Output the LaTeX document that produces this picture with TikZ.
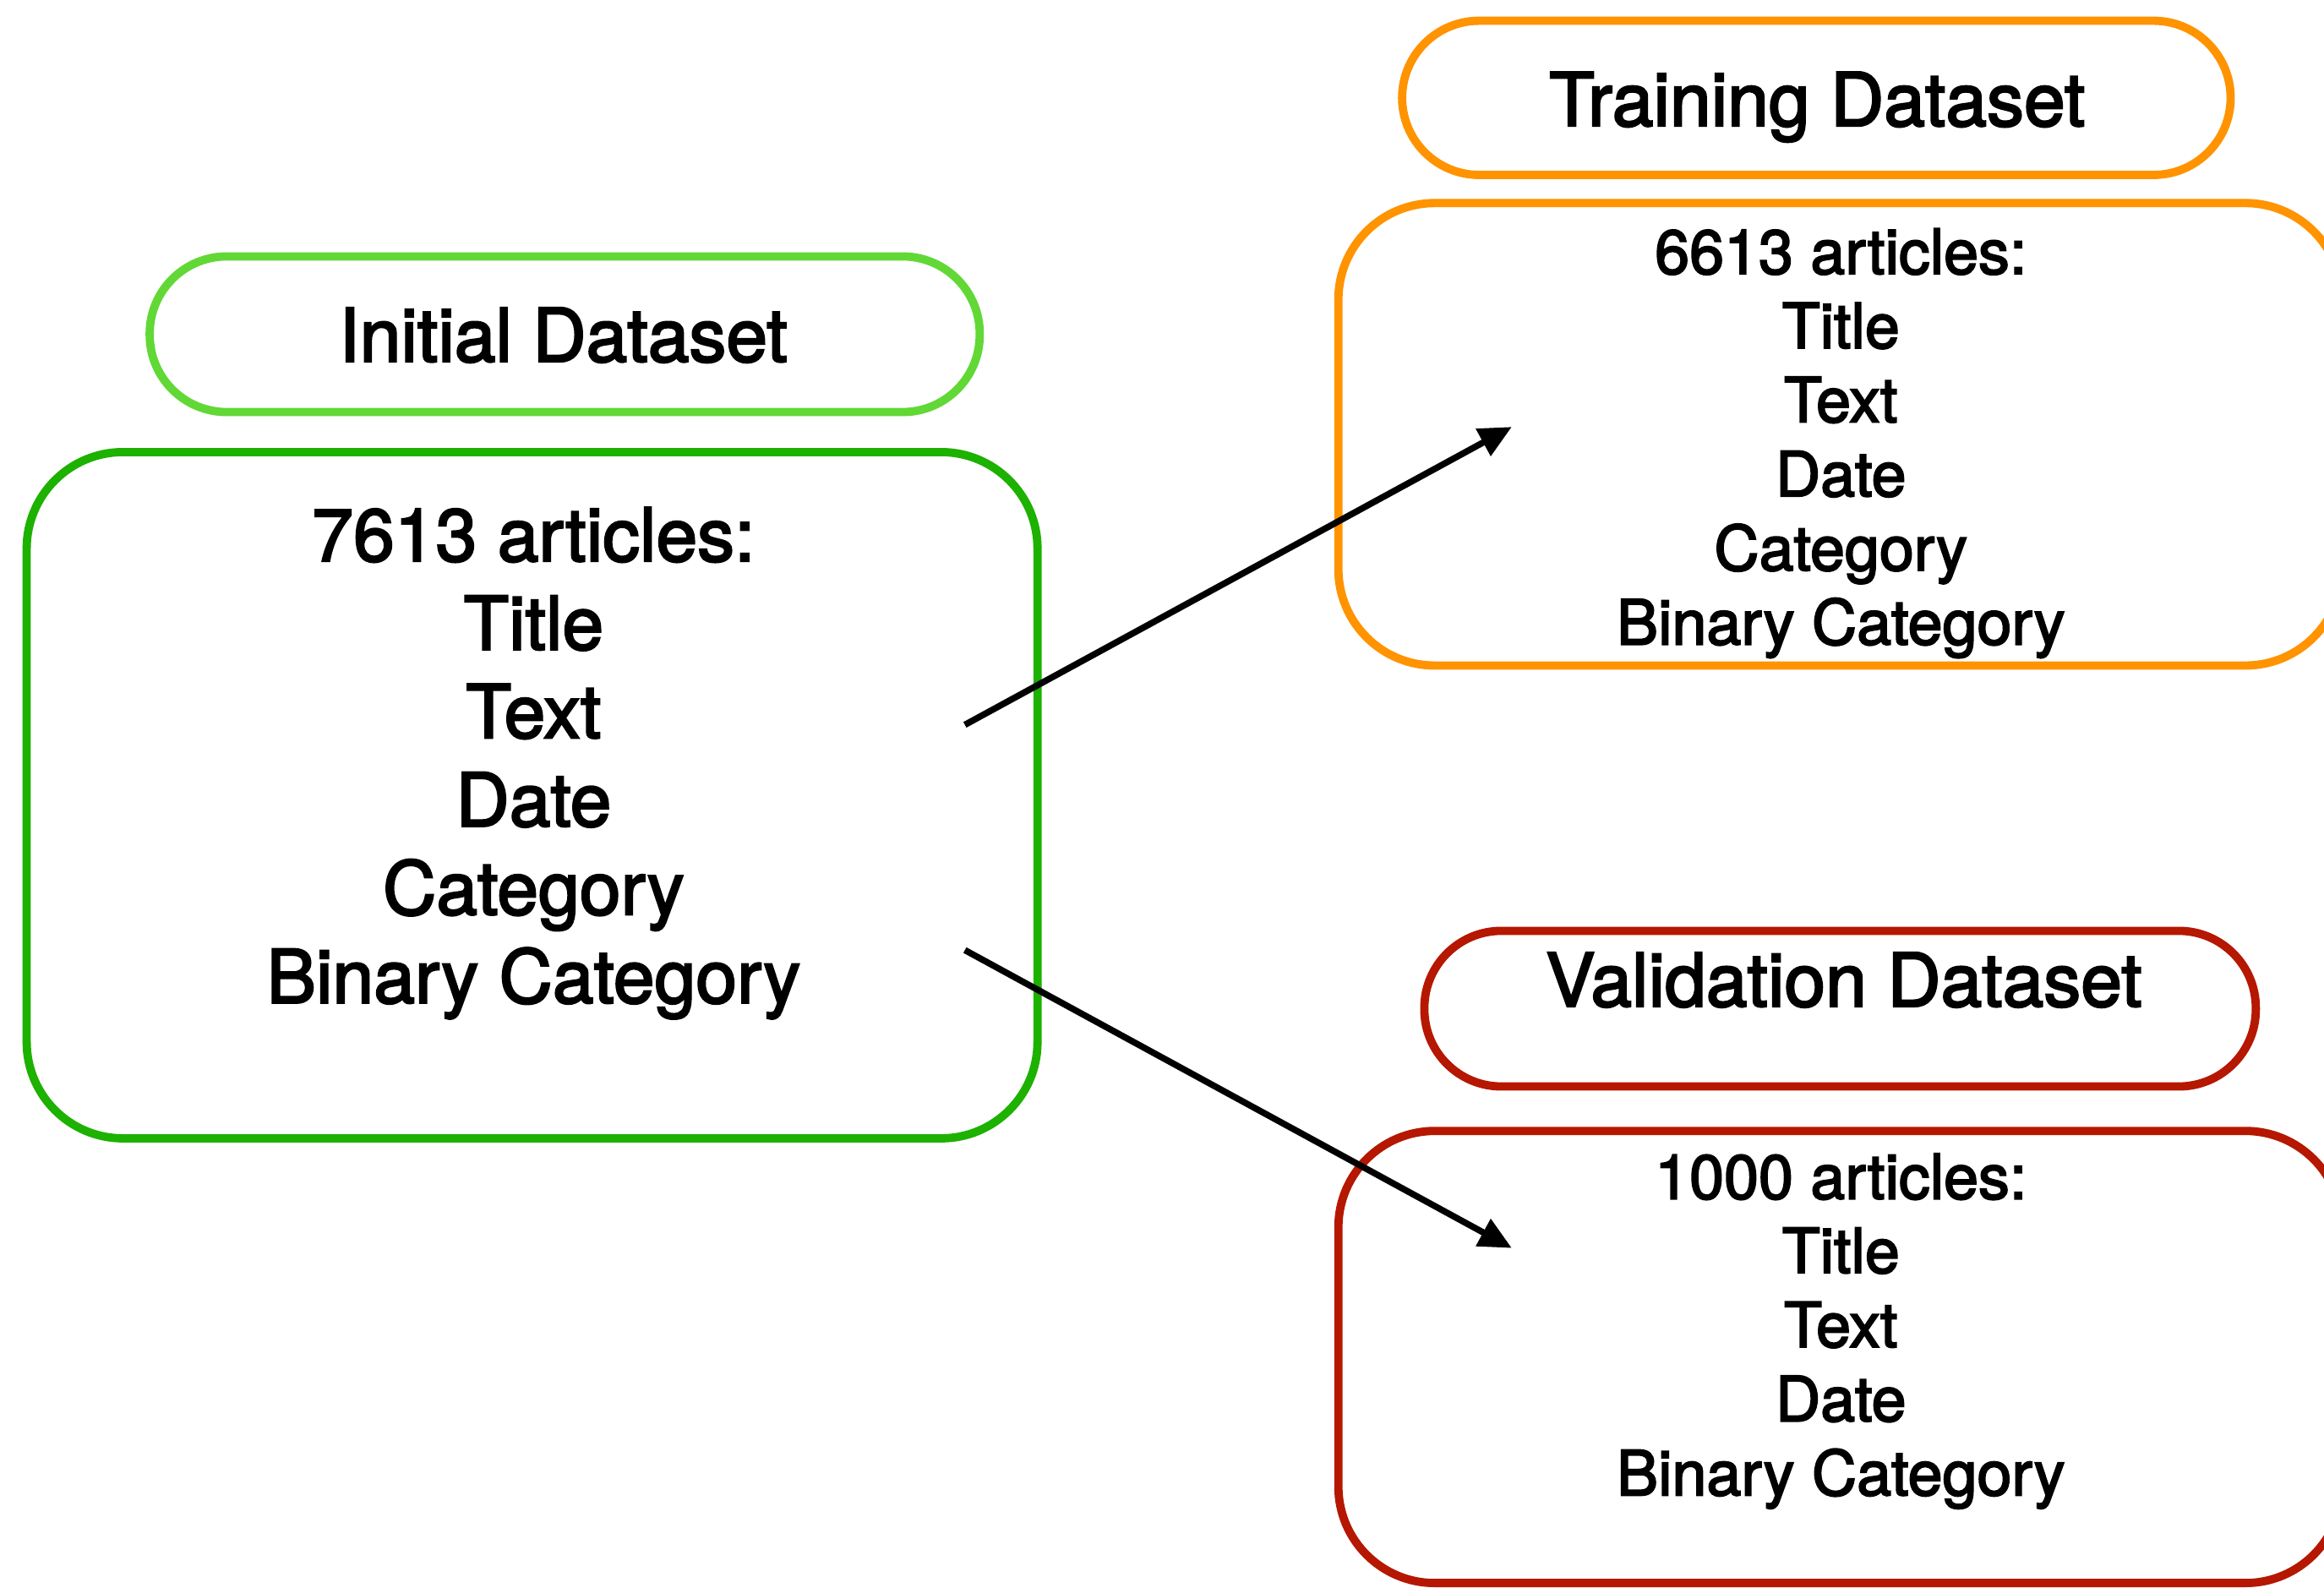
\documentclass[tikz,border=0pt]{standalone}
\usepackage{fontspec}
\setmainfont{TeX Gyre Heros}[FakeBold=2.6]
\usetikzlibrary{arrows.meta}
\definecolor{lightgreen}{HTML}{61D836}
\definecolor{darkgreen}{HTML}{1DB100}
\definecolor{orangeline}{HTML}{FF9300}
\definecolor{redline}{HTML}{B51700}
\tikzset{
  pill/.style={line width=5.6pt, rounded corners=52pt},
  databox/.style={line width=5.6pt, rounded corners=65pt},
  bigtext/.style={font=\fontsize{50}{59.6}\selectfont, align=center, inner sep=0pt},
  smalltext/.style={font=\fontsize{42}{50}\selectfont, align=center, inner sep=0pt},
  flow/.style={line width=4.3pt, -{Triangle[length=22pt,width=20pt]}}
}
\begin{document}
\begin{tikzpicture}[x=1pt,y=-1pt]
\useasboundingbox (0,0) rectangle (1568,1071);
\clip (0,0) rectangle (1568,1071);

% initial dataset
\draw[pill, lightgreen] (101,173) rectangle (661,278);
\node[bigtext, anchor=base] (inittitle) at (380,244) {Initial Dataset};
\draw[databox, darkgreen] (18,305) rectangle (700,768);
\node[bigtext, anchor=north] (initlist) at (360,342)
  {7613 articles:\\Title\\Text\\Date\\Category\\Binary Category};

% training dataset
\draw[pill, orangeline] (946,14) rectangle (1505,118);
\node[bigtext, anchor=base] (traintitle) at (1226,85) {Training Dataset};
\draw[databox, orangeline] (903,137) rectangle (1580,449);
\node[smalltext, anchor=north] (trainlist) at (1242,154)
  {6613 articles:\\Title\\Text\\Date\\Category\\Binary Category};

% validation dataset
\draw[pill, redline] (961,628) rectangle (1522,733);
\node[bigtext, anchor=base] (validtitle) at (1244,679) {Validation Dataset};
\draw[databox, redline] (903,763) rectangle (1580,1068);
\node[smalltext, anchor=north] (validlist) at (1242,778)
  {1000 articles:\\Title\\Text\\Date\\Binary Category};

% split arrows
\coordinate (splitA) at (651,489);
\coordinate (splitB) at (651,641);
\coordinate (toTrain) at (1020,288);
\coordinate (toValid) at (1020,842);
\draw[flow] (splitA) -- (toTrain);
\draw[flow] (splitB) -- (toValid);
\end{tikzpicture}
\end{document}
